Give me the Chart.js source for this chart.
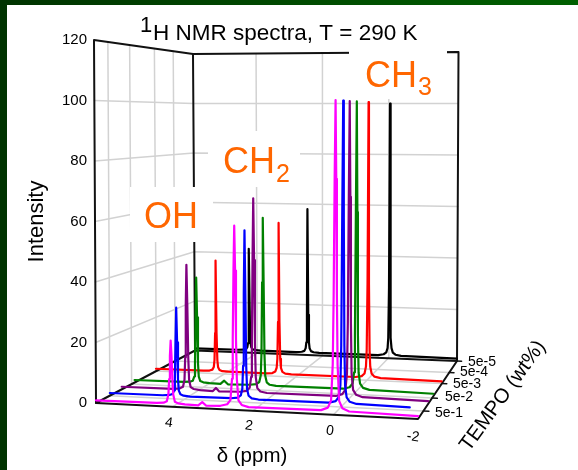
<!DOCTYPE html>
<html><head><meta charset="utf-8">
<script src="https://cdn.jsdelivr.net/npm/chart.js@4"></script>
<style>
html,body{margin:0;padding:0;width:578px;height:470px;overflow:hidden;background:linear-gradient(to right,#003300,#006000)}
#panel{position:absolute;left:7px;top:5px;width:571px;height:465px;background:#fff}
#left{position:absolute;left:0;top:0;width:7px;height:470px;background:#003300}
canvas{position:absolute;left:0;top:0}
</style></head><body>
<div id="left"></div><div id="panel"></div>
<canvas id="c" width="578" height="470"></canvas>
<script>
// ---------- data ----------
const intensityTicks=[20,40,60,80,100];
const ppmTicks=[4,2,0];
const ppmTickLabels=['4','2','0','-2'];
const tempoLabels=['5e-1','5e-2','5e-3','5e-4','5e-5'];
const tempoTickDepths=[0.14,0.36,0.61,0.80,1];

const seriesNames=['black','red','green','purple','blue','magenta'];
const seriesDepths=[1,0.606,0.39,0.26,0.14,0];

const ppmCH2=[2.81,2.64,2.56,2.52,2.50,2.48,2.46,2.44,2.42,2.40,2.36,2.28,2.11];
const ppmCH3=[0.31,0.14,0.06,0.02,0,-0.02,-0.04,-0.06,-0.08,-0.10,-0.14,-0.22,-0.39];

const ppmOHmagenta=[4.39,4.22,4.14,4.10,4.08,4.06,4.04,4.02,4.00,3.98,3.94,3.86,3.69];
const ppmOHblue=[4.55,4.38,4.30,4.26,4.24,4.22,4.20,4.18,4.16,4.14,4.10,4.02,3.85];
const ppmOHpurple=[4.55,4.38,4.30,4.26,4.24,4.22,4.20,4.18,4.16,4.14,4.10,4.02,3.85];
const ppmOHgreen=[4.59,4.42,4.34,4.30,4.28,4.26,4.24,4.22,4.20,4.18,4.14,4.06,3.89];
const ppmOHred=[4.57,4.40,4.32,4.28,4.26,4.24,4.22,4.20,4.18,4.16,4.12,4.04,3.87];
const ppmOHblack=[4.59,4.42,4.34,4.30,4.28,4.26,4.24,4.22,4.20,4.18,4.14,4.06,3.89];

const magentaOH=[1,1.2,1.7,4,9,16.5,21.6,16.5,9,4,1.7,1.2,1];
const magentaCH2=[1.1,1.7,3.1,10,23,45,59.5,45,23,10,3.1,1.7,1.1];
const magentaCH3=[1.3,2.2,4.5,16,38,75,100,75,38,16,4.5,2.2,1.3];
const blueOH=[1,1.2,1.6,2.8,6.7,19,30.6,19,6.7,2.8,1.6,1.2,1];
const blueCH2=[1.1,1.4,2.2,4.4,12,36,57,36,12,4.4,2.2,1.4,1.1];
const blueCH3=[1.2,1.8,3.2,7,20,62,100,62,20,7,3.2,1.8,1.2];
const purpleOH=[1,1.3,1.9,4.3,12,30,43.8,30,12,4.3,1.9,1.3,1];
const purpleCH2=[1.1,1.5,2.6,6.3,18,46,67,46,18,6.3,2.6,1.5,1.1];
const purpleCH3=[1.2,1.9,3.5,9,26,68,100,68,26,9,3.5,1.9,1.2];
const greenOH=[1,1.2,1.6,3.1,8,24,38,24,8,3.1,1.6,1.2,1];
const greenCH2=[1.1,1.4,2.2,4.5,12,37,59.5,37,12,4.5,2.2,1.4,1.1];
const greenCH3=[1.2,1.8,3.2,7,20,62,100,62,20,7,3.2,1.8,1.2];
const redOH=[1,1.1,1.5,2.5,5,15,41.7,15,5,2.5,1.5,1.1,1];
const redCH2=[1,1.2,1.8,3.2,6.5,20,56,20,6.5,3.2,1.8,1.2,1];
const redCH3=[1.1,1.5,2.5,5,11,35,100,35,11,5,2.5,1.5,1.1];
const blackOH=[1,1.1,1.4,2.2,3.8,12,41.7,12,3.8,2.2,1.4,1.1,1];
const blackCH2=[1,1.2,1.6,2.7,5,16,58,16,5,2.7,1.6,1.2,1];
const blackCH3=[1.1,1.5,2.3,4,8,28,100,28,8,4,2.3,1.5,1.1];

const bumpPpmMagenta=[3.36,3.26,3.16], bumpMagenta=[0.9,2.0,0.9];
const bumpPpmPurple=[3.52,3.44,3.36], bumpPurple=[0.9,2.0,0.9];
const bumpPpmGreen=[3.60,3.50,3.40], bumpGreen=[0.9,2.1,0.9];
const baseline=0.9;
const ppmLeft=5.9, ppmRight=-2.1, ppmBlueEnd=-1.75;

const spectra={
 black:{color:'#000000',ppm:[ppmLeft,...ppmOHblack,...ppmCH2,...ppmCH3,ppmRight],y:[baseline,...blackOH,...blackCH2,...blackCH3,baseline]},
 red:{color:'#ff0000',ppm:[ppmLeft,...ppmOHred,...ppmCH2,...ppmCH3,ppmRight],y:[baseline,...redOH,...redCH2,...redCH3,baseline]},
 green:{color:'#008000',ppm:[ppmLeft,...ppmOHgreen,...bumpPpmGreen,...ppmCH2,...ppmCH3,ppmRight],y:[baseline,...greenOH,...bumpGreen,...greenCH2,...greenCH3,baseline]},
 purple:{color:'#800080',ppm:[ppmLeft,...ppmOHpurple,...bumpPpmPurple,...ppmCH2,...ppmCH3,ppmRight],y:[baseline,...purpleOH,...bumpPurple,...purpleCH2,...purpleCH3,baseline]},
 blue:{color:'#0000ff',ppm:[ppmLeft,...ppmOHblue,...ppmCH2,...ppmCH3,ppmBlueEnd],y:[baseline,...blueOH,...blueCH2,...blueCH3,baseline]},
 magenta:{color:'#ff00ff',ppm:[ppmLeft,...ppmOHmagenta,...bumpPpmMagenta,...ppmCH2,...ppmCH3,ppmRight],y:[baseline,...magentaOH,...bumpMagenta,...magentaCH2,...magentaCH3,baseline]}
};

// ---------- 3D view: (ppm, depth, intensity) -> front-plane (ppm, intensity) ----------
const FL=[96,403],FR=[418,419],BL=[195,350.5],BR=[457,361];
const H_FL=3.025,H_FR=3.19,H_BL=2.47,H_BR=2.575;
const LEAN_L=-2,LEAN_R=1.5;
const lerp=(a,b,t)=>a+(b-a)*t;
function proj(ppm,v,I){
  const u=(ppmLeft-ppm)/(ppmLeft-ppmRight);
  const fx=lerp(lerp(FL[0],FR[0],u),lerp(BL[0],BR[0],u),v);
  const fy=lerp(lerp(FL[1],FR[1],u),lerp(BL[1],BR[1],u),v);
  const s=lerp(lerp(H_FL,H_FR,u),lerp(H_BL,H_BR,u),v);
  const px=fx+lerp(LEAN_L,LEAN_R,u)*I/120;
  const py=fy-s*I;
  return {x:ppmLeft-(px-FL[0])/(FR[0]-FL[0])*(ppmLeft-ppmRight),y:(FL[1]-py)/H_FL};
}
const GRID='#d2d2d2',AXIS='#111111';
const datasets=[];
function seg(points,color,width,order){
  datasets.push({data:points.map(p=>proj(p[0],p[1],p[2])),borderColor:color,borderWidth:width,order,
    showLine:true,pointRadius:0,tension:0,clip:false,borderJoinStyle:'round',borderCapStyle:'round',fill:false});
}
// walls and floor grid
intensityTicks.forEach(I=>seg([[ppmLeft,0,I],[ppmLeft,1,I],[ppmRight,1,I]],GRID,1.5,50));
tempoTickDepths.slice(0,4).forEach(v=>{
  seg([[ppmLeft,v,0],[ppmLeft,v,120]],GRID,1.5,50);
  seg([[ppmLeft,v,0],[ppmRight,v,0]],GRID,1.5,50);
});
ppmTicks.forEach(p=>{
  seg([[p,1,0],[p,1,120]],GRID,1.5,50);
  seg([[p,0,0],[p,1,0]],GRID,1.5,50);
});
// box frame
seg([[ppmLeft,0,0],[ppmLeft,0,120],[ppmLeft,1,120],[ppmRight,1,120],[ppmRight,1,0]],AXIS,2,40);
seg([[ppmLeft,1,120],[ppmLeft,1,0]],AXIS,2,40);
const firstAfterBoxes=datasets.length;
seg([[ppmLeft,0,0],[ppmRight,0,0],[ppmRight,1,0],[ppmLeft,1,0],[ppmLeft,0,0]],AXIS,2,30);
tempoTickDepths.forEach(v=>seg([[ppmRight,v,0],[ppmRight-0.14,v,0]],AXIS,1.5,30));
// spectra, back to front
seriesNames.forEach((n,i)=>{
  const s=spectra[n],v=seriesDepths[i];
  seg(s.ppm.map((p,k)=>[p,v,s.y[k]]),s.color,2.2,20-i);
});

const whiteBoxes=[[130,187,83,55],[208,131,92,56],[349,47,98,52]];
const ORANGE='#ff6600';
function txt(c,s,x,y,font,color,rot,align,base){
  c.save();c.translate(x,y);if(rot)c.rotate(rot*Math.PI/180);
  c.font=font;c.fillStyle=color||'#000';c.textAlign=align||'left';c.textBaseline=base||'alphabetic';
  c.fillText(s,0,0);c.restore();
}
const F='"Liberation Sans",Arial,sans-serif';
const plugin={id:'view3d',
 beforeDatasetDraw(chart,args){
  if(args.index===firstAfterBoxes){
    const c=chart.ctx;c.save();c.fillStyle='#fff';
    whiteBoxes.forEach(b=>c.fillRect(b[0],b[1],b[2],b[3]));c.restore();
  }
 },
 afterDatasetsDraw(chart){
  const c=chart.ctx;
  txt(c,'1',140,32,'22px '+F,'#000');
  txt(c,'H NMR spectra, T = 290 K',153,40,'22.5px '+F,'#000');
  txt(c,'OH',144,228,'36px '+F,ORANGE);
  txt(c,'CH',223,173,'36px '+F,ORANGE);
  txt(c,'2',276,182,'25px '+F,ORANGE);
  txt(c,'CH',365,87,'36px '+F,ORANGE);
  txt(c,'3',418,95,'25px '+F,ORANGE);
  const bx=[169,249,330,413],by=[423,426,431,437];
  ppmTickLabels.forEach((t,i)=>txt(c,t,bx[i],by[i],'14px '+F,'#000',8,'center','middle'));
  const tx=[449,459,467,474,482],ty=[413,397,384,372,362];
  tempoLabels.forEach((t,i)=>txt(c,t,tx[i],ty[i],'14px '+F,'#000',0,'center','middle'));
  txt(c,'\u03b4 (ppm)',252,456,'20.5px '+F,'#000',0,'center','middle');
  txt(c,'TEMPO (wt%)',503,396,'20.5px '+F,'#000',-54,'center','middle');
 }
};
new Chart(document.getElementById('c'),{
 type:'scatter',
 data:{datasets},
 plugins:[plugin],
 options:{
  responsive:false,animation:false,
  layout:{padding:{left:0,right:160,top:40,bottom:67}},
  plugins:{legend:{display:false},tooltip:{enabled:false},title:{display:false}},
  scales:{
   x:{type:'linear',reverse:true,min:ppmRight,max:ppmLeft,display:false},
   y:{type:'linear',min:0,max:120,
      afterFit(s){s.width=96},
      grid:{display:false,drawTicks:false},border:{display:false},
      ticks:{stepSize:20,color:'#000',padding:9,font:{size:15,family:F}},
      title:{display:true,text:'Intensity',color:'#000',font:{size:22,family:F},padding:{top:24,bottom:0}}}
  }
 }
});
</script>
</body></html>
